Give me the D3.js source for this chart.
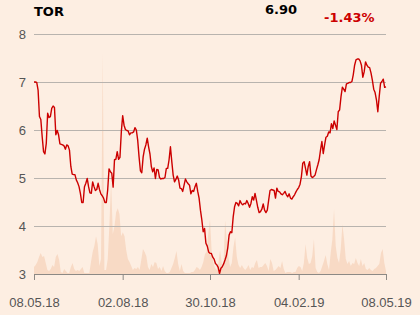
<!DOCTYPE html>
<html>
<head>
<meta charset="utf-8">
<script src="https://cdn.jsdelivr.net/npm/d3@7"></script>
<style>
  body { margin: 0; background: #fdeee2; }
  svg { display: block; font-family: "DejaVu Sans", sans-serif; }
  .axis text { fill: #555; font-size: 13px; }
  .y-axis line { stroke: #b8b3ae; }
  .x-axis line, .x-axis path { stroke: #8c8985; }
</style>
</head>
<body>
<svg id="chart"></svg>
<script>
// header values
const ticker = "TOR";
const lastPrice = "6.90";
const change = "-1.43%";

// daily closes, 08.05.18 - 08.05.19
const prices = [
  7.00, 7.00, 6.99, 6.83, 6.28, 6.22, 5.86, 5.55, 5.50, 5.72,
  6.35, 6.26, 6.28, 6.45, 6.50, 6.47, 5.90, 5.99, 5.90, 5.71,
  5.70, 5.69, 5.67, 5.60, 5.69, 5.67, 5.58, 5.24, 5.08, 5.07,
  5.07, 4.96, 4.90, 4.82, 4.68, 4.49, 4.49, 4.82, 4.89, 4.99,
  4.82, 4.69, 4.68, 4.92, 4.82, 4.74, 4.76, 4.89, 4.76, 4.67,
  4.63, 4.58, 4.49, 4.49, 4.75, 5.19, 5.13, 5.10, 4.81, 5.38,
  5.39, 5.55, 5.39, 5.43,
  5.96, 6.30, 6.10, 6.01, 5.99, 5.98, 5.90, 5.94, 5.94, 5.96,
  6.05, 6.00, 5.79, 5.44, 5.15, 5.11, 5.44, 5.60, 5.69, 5.83,
  5.65, 5.50, 5.24, 5.13, 5.21, 4.99, 5.18, 5.17, 5.01, 4.98,
  4.99, 4.99, 5.01, 5.20, 5.20, 5.38, 5.65, 5.34, 5.06, 4.92,
  4.97, 5.04, 4.96, 4.79, 4.78, 4.72, 4.85, 4.98, 4.92, 4.88,
  4.85, 4.67, 4.74, 4.72, 4.82, 4.89, 4.72, 4.58, 4.33, 4.13,
  3.88, 3.95, 3.64, 3.58, 3.46, 3.43, 3.43, 3.35, 3.31, 3.22,
  3.19, 3.14, 3.01, 3.12, 3.15, 3.21, 3.29, 3.38, 3.54, 3.81,
  3.88, 3.86, 4.19, 4.40, 4.49, 4.47, 4.42, 4.53, 4.47, 4.44,
  4.47, 4.46, 4.53, 4.47, 4.39, 4.47, 4.61, 4.54, 4.68, 4.54,
  4.39, 4.28, 4.30, 4.35, 4.46, 4.33, 4.28, 4.33, 4.54, 4.74,
  4.76, 4.75, 4.74, 4.58, 4.79, 4.72, 4.71, 4.67, 4.65, 4.68,
  4.72, 4.65, 4.61, 4.67, 4.58, 4.56, 4.61, 4.65, 4.71, 4.76,
  4.80, 4.87, 5.03, 5.31, 5.34, 5.20, 5.06, 5.24, 5.34,
  5.04, 5.01, 5.03, 5.06, 5.17, 5.27, 5.38, 5.58, 5.76, 5.51,
  5.69, 5.85, 5.87, 5.96, 5.94, 6.13, 6.03, 6.19, 6.10, 6.01,
  6.38, 6.42, 6.69, 6.89, 6.85, 6.80, 6.96, 6.97, 6.99, 6.99,
  7.01, 7.15, 7.35, 7.46, 7.48, 7.48, 7.44, 7.35, 7.10, 7.21,
  7.42, 7.35, 7.31, 7.30, 7.19, 7.04, 6.85, 6.78, 6.63, 6.38,
  6.69, 6.97, 7.01, 7.06, 6.89, 6.90
];

// traded volume (relative units), same period
const volumes = [
  7, 9, 12, 17, 21, 17, 18, 11, 4, 3,
  5, 9, 7, 17, 20, 14, 2, 1, 5, 3,
  1, 1, 7, 11, 5, 3, 4, 3, 5, 7,
  1, 1, 1, 1, 12, 22, 28, 38, 30, 8,
  15, 222, 4, 4, 15, 50, 94, 40, 48, 62,
  66, 60, 38, 42, 38, 24, 15, 12, 8, 4,
  6, 5, 7, 4, 14, 25, 22, 18, 7, 4,
  10, 7, 12, 11, 5, 7, 3, 8, 3, 1,
  1, 2, 6, 10, 16, 23, 10, 3, 10, 3,
  1, 1, 1, 1, 2, 2, 4, 7, 6, 4,
  7, 12, 20, 22, 41, 55, 22, 11, 6, 4,
  11, 24, 11, 6, 54, 34, 17, 7, 11, 27,
  37, 17, 9, 6, 9, 6, 4, 6, 9, 4,
  7, 6, 11, 14, 6, 7, 7, 9, 11, 8,
  3, 15, 11, 3, 4, 6, 8, 6, 13, 5,
  1, 2, 2, 2, 1, 2, 2, 6, 8, 7,
  3, 11, 30, 16, 10, 11, 18, 35, 6, 2,
  1, 3, 8, 13, 19, 10, 4, 21, 35, 65,
  28, 16, 11, 25, 50, 35, 15, 10, 13, 8,
  11, 10, 16, 11, 8, 15, 8, 11, 5, 4,
  6, 4, 3, 5, 6, 8, 10, 21, 25, 11,
  3
];

const yTicks = [3, 4, 5, 6, 7, 8];
const dateLabels = ["08.05.18", "02.08.18", "30.10.18", "04.02.19", "08.05.19"];

const width = 420, height = 315;
const margin = {top: 34, right: 34, bottom: 41, left: 34};
const innerW = width - margin.left - margin.right;
const innerH = height - margin.top - margin.bottom;

const svg = d3.select("#chart")
    .attr("width", width)
    .attr("height", height);

svg.append("rect")
    .attr("width", width)
    .attr("height", height)
    .attr("fill", "#fdeee2");

const chart = svg.append("g")
    .attr("transform", `translate(${margin.left},${margin.top})`);

const xScale = d3.scaleLinear()
    .domain([0, prices.length - 1])
    .range([0, innerW]);

const xVol = d3.scaleLinear()
    .domain([0, volumes.length - 1])
    .range([0, innerW]);

const yScale = d3.scaleLinear()
    .domain([3, 8])
    .range([innerH, 0]);

const yVol = d3.scaleLinear()
    .domain([0, 225])
    .range([innerH, innerH - 224]);

// volume in the background
const volArea = d3.area()
    .x((d, i) => xVol(i))
    .y0(innerH)
    .y1(d => yVol(d));

chart.append("path")
    .datum(volumes)
    .attr("fill", "#f8dac5")
    .attr("d", volArea);

// gridlines + y labels
const yAxis = d3.axisLeft(yScale)
    .tickValues(yTicks)
    .tickSize(-innerW)
    .tickPadding(8)
    .tickFormat(d3.format("d"));

const yAxisG = chart.append("g")
    .attr("class", "axis y-axis")
    .call(yAxis);
yAxisG.select(".domain").remove();

// price line
const line = d3.line()
    .x((d, i) => xScale(i))
    .y(d => yScale(d));

chart.append("path")
    .datum(prices)
    .attr("fill", "none")
    .attr("stroke", "#cc0000")
    .attr("stroke-width", 1.4)
    .attr("stroke-linejoin", "round")
    .attr("d", line);

// x axis, date ticks at quarters of the trading year
const n = prices.length - 1;
const xTickIdx = dateLabels.map((d, k) => Math.round(n * k / 4));

const xAxis = d3.axisBottom(xScale)
    .tickValues(xTickIdx)
    .tickSize(6)
    .tickSizeOuter(0)
    .tickPadding(18)
    .tickFormat((d, k) => dateLabels[k]);

chart.append("g")
    .attr("class", "axis x-axis")
    .attr("transform", `translate(0,${innerH})`)
    .call(xAxis);

// header
svg.append("text")
    .attr("x", 34)
    .attr("y", 16)
    .style("font-size", "13px")
    .style("font-weight", "bold")
    .attr("fill", "#000")
    .text(ticker);

svg.append("text")
    .attr("x", 265)
    .attr("y", 14)
    .style("font-size", "13px")
    .style("font-weight", "bold")
    .attr("fill", "#000")
    .text(lastPrice);

svg.append("text")
    .attr("x", 324)
    .attr("y", 21.5)
    .style("font-size", "13px")
    .style("font-weight", "bold")
    .attr("fill", "#cc0000")
    .text(change);
</script>
</body>
</html>
